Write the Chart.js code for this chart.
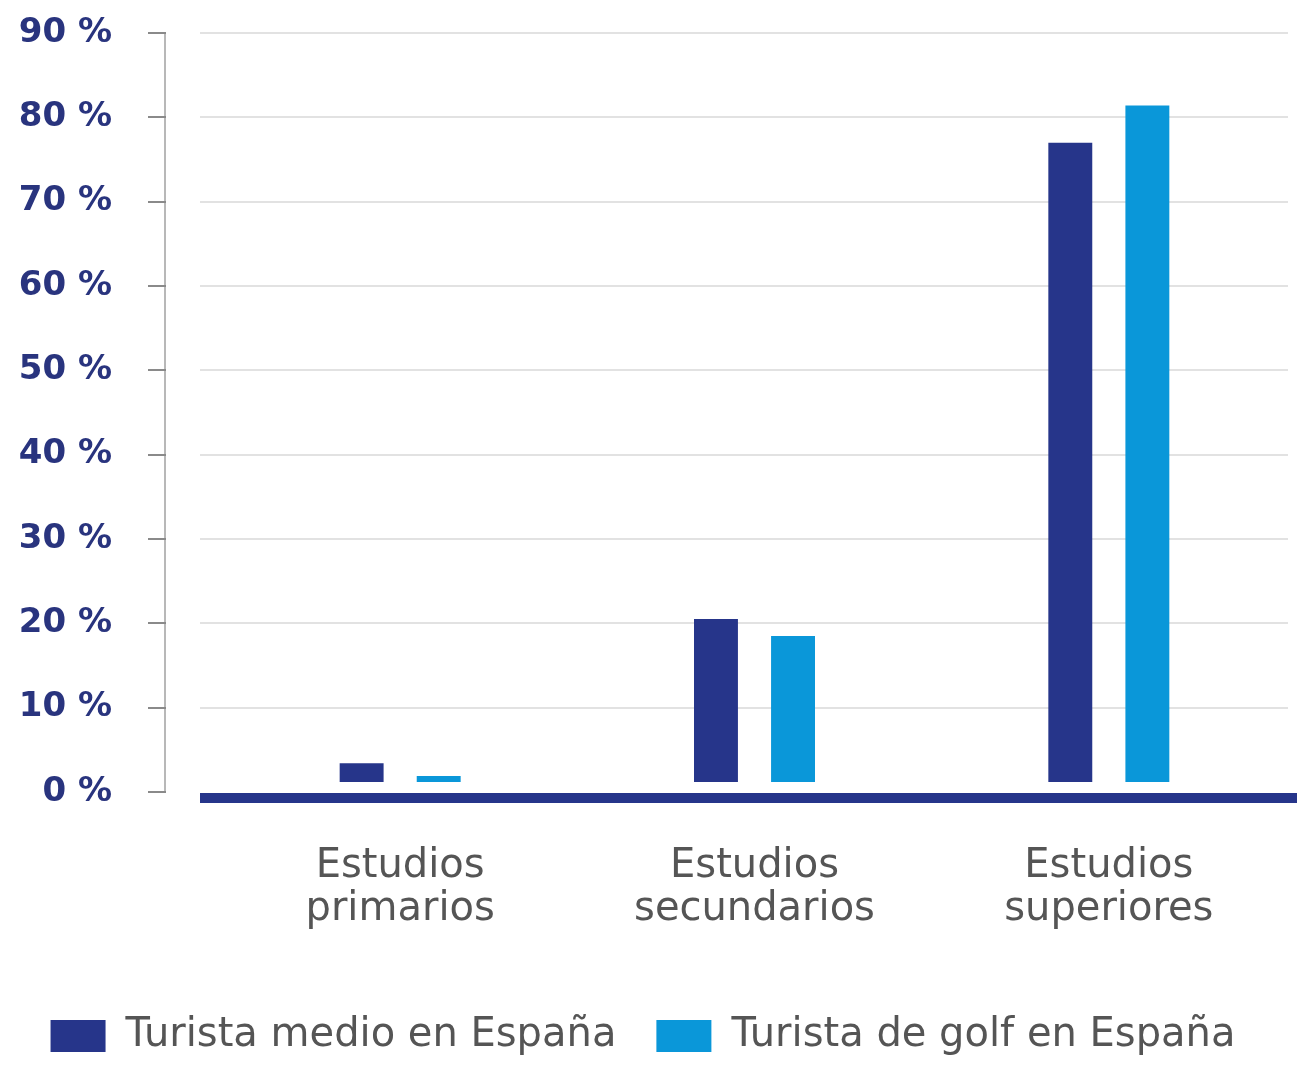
<!DOCTYPE html>
<html>
<head>
    <title>Nivel de estudios</title>
    <script src="https://cdn.jsdelivr.net/npm/chart.js@4/dist/chart.umd.min.js"></script>
    <style>
        html, body {
            margin: 0;
            padding: 0;
            background: #ffffff;
        }
        #chart {
            display: block;
        }
    </style>
</head>
<body>
    <canvas id="chart" width="1297" height="1066"></canvas>

    <script>
        const categories = [
            ['Estudios', 'primarios'],
            ['Estudios', 'secundarios'],
            ['Estudios', 'superiores']
        ];
        const seriesNames = ['Turista medio en España', 'Turista de golf en España'];
        const turistaMedio = [3.4, 20.5, 77.0];
        const turistaGolf = [1.9, 18.5, 81.4];
        const yTicks = [0, 10, 20, 30, 40, 50, 60, 70, 80, 90];

        const navy = '#26358a';
        const blue = '#0a97d9';
        const fontFamily = '"DejaVu Sans", "Open Sans", sans-serif';

        // own axis line, tick marks, grid and thick base line
        const decorations = {
            id: 'decorations',
            beforeDatasetsDraw(chart) {
                const ctx = chart.ctx;
                const y = chart.scales.y;
                const top = y.getPixelForValue(yTicks[yTicks.length - 1]);
                const bottom = y.getPixelForValue(0);
                ctx.save();
                ctx.lineWidth = 2;
                ctx.strokeStyle = '#e2e2e2';
                yTicks.forEach(v => {
                    if (v === 0) return;
                    const py = Math.round(y.getPixelForValue(v));
                    ctx.beginPath();
                    ctx.moveTo(200, py);
                    ctx.lineTo(1288, py);
                    ctx.stroke();
                });
                ctx.strokeStyle = '#b8b8b8';
                ctx.beginPath();
                ctx.moveTo(165, top);
                ctx.lineTo(165, bottom);
                ctx.stroke();
                ctx.strokeStyle = '#8a8a8a';
                yTicks.forEach(v => {
                    const py = Math.round(y.getPixelForValue(v));
                    ctx.beginPath();
                    ctx.moveTo(148, py);
                    ctx.lineTo(166, py);
                    ctx.stroke();
                });
                ctx.restore();
            },
            afterDatasetsDraw(chart) {
                const ctx = chart.ctx;
                const base = chart.scales.y.getPixelForValue(0) + 6;
                ctx.save();
                ctx.fillStyle = navy;
                ctx.fillRect(200, base - 5, chart.width - 200, 10);
                ctx.restore();
            }
        };

        new Chart(document.getElementById('chart'), {
            type: 'bar',
            data: {
                labels: categories,
                datasets: [{
                    label: seriesNames[0],
                    data: turistaMedio,
                    backgroundColor: navy,
                    base: 1.2
                }, {
                    label: seriesNames[1],
                    data: turistaGolf,
                    backgroundColor: blue,
                    base: 1.2
                }]
            },
            options: {
                responsive: false,
                animation: false,
                devicePixelRatio: 1,
                categoryPercentage: 0.435,
                barPercentage: 0.57,
                layout: {
                    padding: { top: 33, right: 11, left: 0, bottom: 0 }
                },
                plugins: {
                    tooltip: { enabled: false },
                    legend: {
                        position: 'bottom',
                        labels: {
                            boxWidth: 55,
                            boxHeight: 32,
                            padding: 40,
                            color: '#555555',
                            font: { family: fontFamily, size: 40 }
                        }
                    }
                },
                scales: {
                    x: {
                        grid: { display: false, drawTicks: false },
                        border: { display: false },
                        afterFit(scale) { scale.height = 184; },
                        ticks: {
                            maxRotation: 0,
                            autoSkip: false,
                            padding: 53,
                            color: '#555555',
                            font: { family: fontFamily, size: 40, lineHeight: 1.08 }
                        }
                    },
                    y: {
                        min: 0,
                        max: 90,
                        grid: { display: false, drawTicks: false },
                        border: { display: false },
                        afterFit(scale) {
                            scale.width = 223;
                            scale.paddingTop = 0;
                            scale.paddingBottom = 0;
                        },
                        afterBuildTicks(scale) {
                            scale.ticks = yTicks.map(v => ({ value: v }));
                        },
                        ticks: {
                            padding: 111,
                            color: '#29347e',
                            font: { family: fontFamily, size: 34, weight: 'bold' },
                            callback: v => v + ' %'
                        }
                    }
                }
            },
            plugins: [decorations]
        });
    </script>
</body>
</html>
